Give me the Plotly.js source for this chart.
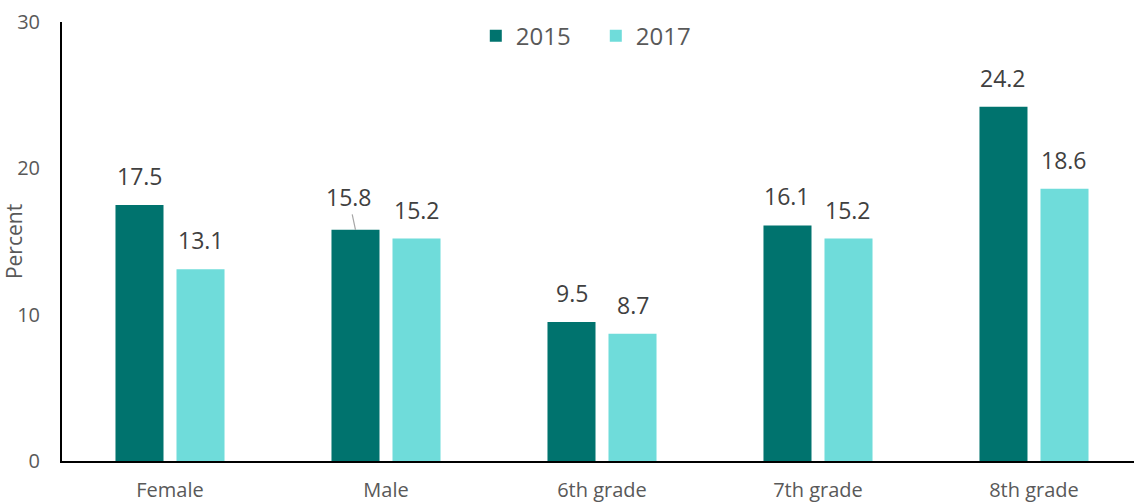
<!DOCTYPE html>
<html><head><meta charset="utf-8">
<script src="https://cdn.plot.ly/plotly-3.0.1.min.js"></script>
<style>html,body{margin:0;padding:0;background:#fff}#chart{width:1134px;height:504px}</style>
</head><body><div id="chart"></div>
<script>
const categories = ["Female", "Male", "6th grade", "7th grade", "8th grade"];
const values2015 = [17.5, 15.8, 9.5, 16.1, 24.2];
const values2017 = [13.1, 15.2, 8.7, 15.2, 18.6];
const seriesNames = ["2015", "2017"];
const yTicks = [0, 10, 20, 30];

const FONT = "'Open Sans', 'Noto Sans', sans-serif";
const colors = ["#00736E", "#6FDCDA"];

const traces = [values2015, values2017].map((v, i) => ({
  type: "bar", x: categories, y: v, name: seriesNames[i],
  marker: {color: colors[i], line: {width: 0}},
  hoverinfo: "x+y"
}));

const annotations = [];
[values2015, values2017].forEach((vals, si) => {
  vals.forEach((v, ci) => {
    const shift = si === 0 ? -30.5 : 30.5;
    if (si === 0 && categories[ci] === "Male") {
      annotations.push({x: categories[ci], y: v, xref: "x", yref: "y", xshift: shift,
        text: v.toFixed(1), showarrow: true, arrowhead: 0, arrowwidth: 1.2,
        arrowcolor: "#A6A6A6", ax: -7, ay: -33, standoff: 0,
        font: {family: FONT, size: 23, color: "#404040"}});
    } else {
      annotations.push({x: categories[ci], y: v, xref: "x", yref: "y", xshift: shift,
        yshift: 29, yanchor: "middle", text: v.toFixed(1), showarrow: false,
        font: {family: FONT, size: 23, color: "#404040"}});
    }
  });
});

const layout = {
  width: 1134, height: 504,
  margin: {l: 62, r: 0, t: 22, b: 43, pad: 0},
  paper_bgcolor: "#fff", plot_bgcolor: "#fff",
  font: {family: FONT, color: "#595959", size: 20},
  barmode: "group", bargap: 0.435, bargroupgap: 0.213,
  showlegend: true,
  legend: {orientation: "h", x: 0.386, xanchor: "left", y: 0.968, yanchor: "middle",
    font: {family: FONT, size: 24, color: "#595959"}, bgcolor: "rgba(0,0,0,0)",
    entrywidth: 75, entrywidthmode: "pixels", tracegroupgap: 0},
  xaxis: {type: "category", range: [-0.5, 4.463], showline: true, linecolor: "#000", linewidth: 2,
    ticks: "", showgrid: false, zeroline: false, tickfont: {family: FONT, size: 20, color: "#595959"},
    ticklabelstandoff: 10},
  yaxis: {range: [0, 30], tickvals: yTicks, showline: true, linecolor: "#000", linewidth: 2,
    ticks: "", showgrid: false, zeroline: false, tickfont: {family: FONT, size: 20, color: "#595959"},
    ticklabelstandoff: 16,
    title: {text: "Percent", font: {family: FONT, size: 21, color: "#595959"}, standoff: 7}},
  annotations: annotations
};
Plotly.newPlot("chart", traces, layout, {displayModeBar: false, staticPlot: true});
</script></body></html>
